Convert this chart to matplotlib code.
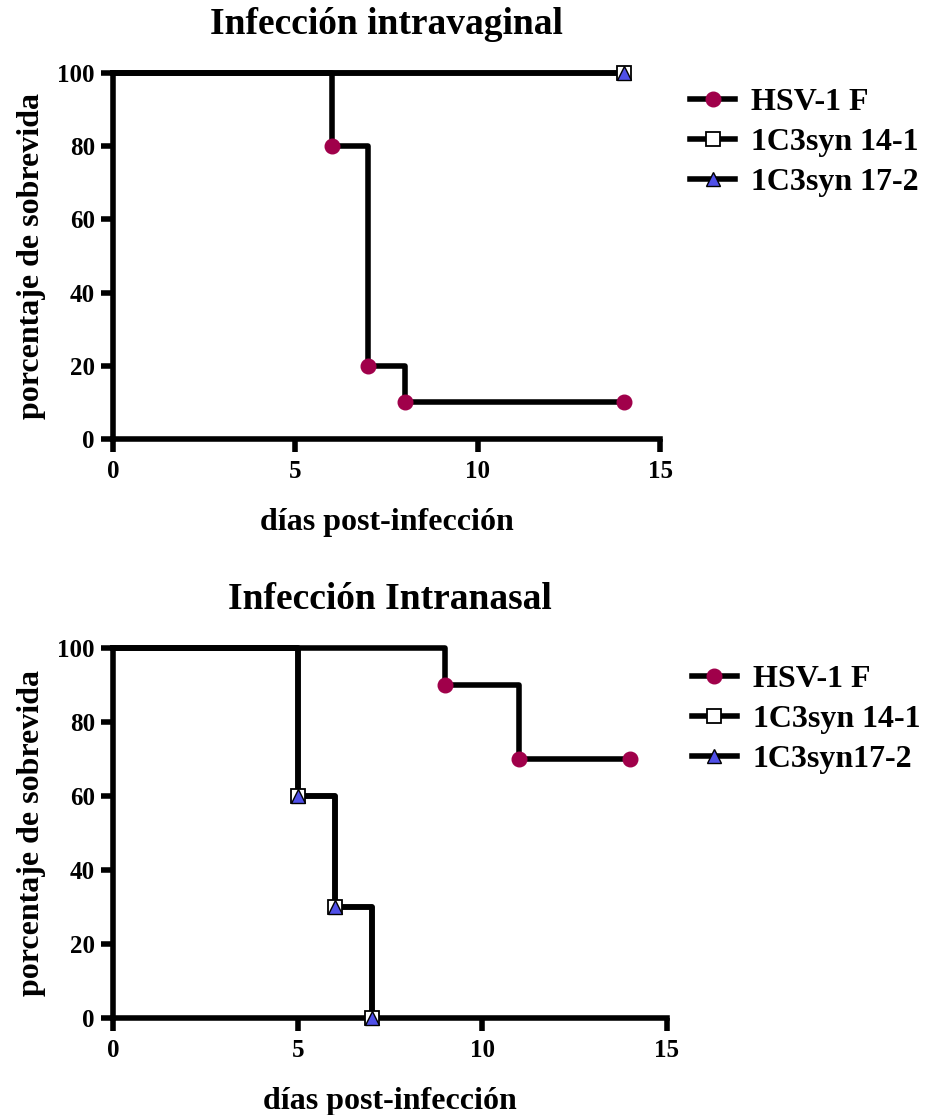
import numpy as np
import matplotlib
matplotlib.use("Agg")
from matplotlib import pyplot as plt

plt.rcParams["font.family"] = ["Liberation Serif", "DejaVu Serif"]
plt.rcParams["font.weight"] = "bold"

# Infeccion intravaginal
vag_hsv_days = [0, 6, 7, 8, 14]
vag_hsv_surv = [100, 80, 20, 10, 10]
vag_14_days = [0, 14]
vag_14_surv = [100, 100]
vag_17_days = [0, 14]
vag_17_surv = [100, 100]

# Infeccion intranasal
nas_hsv_days = [0, 9, 11, 14]
nas_hsv_surv = [100, 90, 70, 70]
nas_14_days = [0, 5, 6, 7]
nas_14_surv = [100, 60, 30, 0]
nas_17_days = [0, 5, 6, 7]
nas_17_surv = [100, 60, 30, 0]

labels_top = ["HSV-1 F", "1C3syn 14-1", "1C3syn 17-2"]
labels_bot = ["HSV-1 F", "1C3syn 14-1", "1C3syn17-2"]

circ = dict(marker="o", color="black", mfc="#A0004A", mec="#A0004A", ms=10.5)
sq = dict(marker="s", color="black", mfc="white", mec="black", ms=9.5, mew=1.3)
tri = dict(marker="^", color="black", mfc="#5050E8", mec="black", ms=10, mew=1.0)


def draw(ax, series, labels, title, leg_x, leg_y):
    for (d, s), st in zip(series, [circ, sq, tri]):
        ax.step(d, s, where="post", color="black", lw=4, zorder=2, clip_on=False)
        ax.plot(d[1:], s[1:], ls="none", zorder=3, clip_on=False, **st)
    leg_handles = []
    for st in [circ, sq, tri]:
        lh, = ax.plot([], [], lw=4, **st)
        leg_handles.append(lh)
    ax.legend(leg_handles, labels, loc="upper left", bbox_to_anchor=(leg_x, leg_y),
              frameon=False, fontsize=23, handlelength=1.4, labelspacing=0.33,
              handletextpad=0.5, borderpad=0, borderaxespad=0)
    ax.set_xlim(0, 15)
    ax.set_ylim(0, 100)
    ax.set_xticks([0, 5, 10, 15])
    ax.set_yticks([0, 20, 40, 60, 80, 100])
    for sp in ["top", "right"]:
        ax.spines[sp].set_visible(False)
    for sp in ["left", "bottom"]:
        ax.spines[sp].set_linewidth(4)
        ax.spines[sp].set_capstyle("projecting")
    ax.tick_params(width=4, length=9, direction="out", labelsize=18, pad=4)
    ax.tick_params(axis="x", pad=6)
    ax.set_xlabel("días post-infección", fontsize=23, fontweight="bold", labelpad=18)
    ax.set_ylabel("porcentaje de sobrevida", fontsize=23, fontweight="bold", labelpad=8)
    ax.set_title(title, fontsize=27, fontweight="bold", pad=28)
    for lab in ax.get_xticklabels() + ax.get_yticklabels():
        lab.set_fontweight("bold")


fig = plt.figure(figsize=(9.42, 11.15), dpi=100)
ax1 = fig.add_axes([0.120, 0.6063, 0.5807, 0.3283])
ax2 = fig.add_axes([0.120, 0.0870, 0.588, 0.3318])

draw(ax1, [(vag_hsv_days, vag_hsv_surv), (vag_14_days, vag_14_surv), (vag_17_days, vag_17_surv)],
     labels_top, "Infección intravaginal", 1.055, 0.96)
draw(ax2, [(nas_hsv_days, nas_hsv_surv), (nas_14_days, nas_14_surv), (nas_17_days, nas_17_surv)],
     labels_bot, "Infección Intranasal", 1.045, 0.955)

fig.savefig("out.png", dpi=100)
